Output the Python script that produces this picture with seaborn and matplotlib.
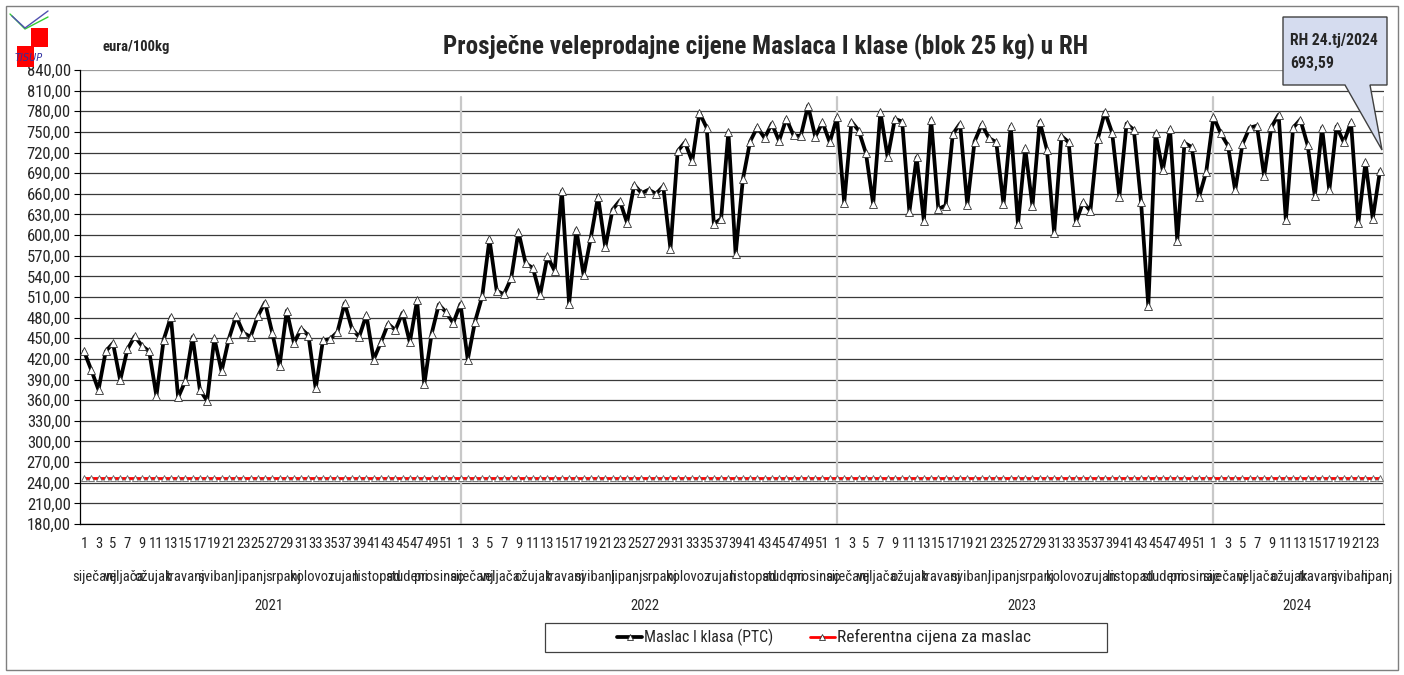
import matplotlib
matplotlib.use("Agg")
import matplotlib.pyplot as plt
from matplotlib import font_manager as fm
from matplotlib.patches import Rectangle, Polygon
from matplotlib.lines import Line2D
import numpy as np
import pandas as pd
import seaborn as sns

#####
# podaci (tjedne cijene, eura/100kg)
#####
godine = ["2021", "2022", "2023", "2024"]
mjeseci = ["siječanj", "veljača", "ožujak", "travanj", "svibanj", "lipanj",
           "srpanj", "kolovoz", "rujan", "listopad", "studeni", "prosinac"]
tjedni_po_mjesecu_2021 = [4, 4, 4, 5, 4, 5, 4, 4, 5, 4, 4, 5]
tjedni_po_mjesecu_2022 = [4, 4, 5, 4, 4, 5, 4, 4, 5, 4, 4, 5]
tjedni_po_mjesecu_2023 = [4, 4, 5, 4, 4, 5, 4, 5, 4, 4, 5, 4]
tjedni_po_mjesecu_2024 = [4, 5, 4, 4, 5, 2]

cijena_2021 = [431, 404, 375, 431, 443, 389, 434, 453, 439, 431,
               366, 448, 481, 364, 388, 452, 375, 359, 450, 402,
               449, 482, 458, 452, 482, 502, 458, 409, 490, 443,
               464, 454, 377, 447, 449, 459, 501, 464, 452, 484,
               419, 444, 471, 462, 487, 444, 505, 383, 456, 499,
               488, 472]
cijena_2022 = [500, 419, 474, 511, 594, 519, 514, 537, 605, 559,
               552, 513, 569, 548, 664, 500, 608, 542, 596, 656,
               582, 637, 650, 618, 673, 661, 666, 660, 671, 580,
               722, 735, 707, 778, 756, 616, 624, 750, 572, 681,
               736, 757, 741, 762, 737, 769, 745, 744, 788, 743,
               764, 735]
cijena_2023 = [771, 647, 765, 752, 719, 645, 779, 713, 769, 765,
               634, 713, 621, 768, 638, 643, 747, 762, 644, 736,
               761, 741, 735, 645, 758, 616, 726, 642, 765, 724,
               603, 744, 735, 619, 648, 635, 739, 779, 749, 656,
               762, 753, 648, 497, 748, 694, 754, 592, 734, 728,
               655, 692]
cijena_2024 = [772, 748, 730, 665, 732, 756, 759, 686, 757, 775,
               622, 756, 768, 731, 657, 756, 665, 758, 735, 764,
               617, 706, 624, 693.59]
referentna_cijena = 246.39

naslov = "Prosječne veleprodajne cijene Maslaca I klase (blok 25 kg) u RH"
jedinica = "eura/100kg"
naziv_serije = "Maslac I klasa (PTC)"
naziv_ref = "Referentna cijena za maslac"

cijene = [cijena_2021, cijena_2022, cijena_2023, cijena_2024]
tjedni_mj = [tjedni_po_mjesecu_2021, tjedni_po_mjesecu_2022,
             tjedni_po_mjesecu_2023, tjedni_po_mjesecu_2024]

rows = []
for g, c in zip(godine, cijene):
    for t, v in enumerate(c, start=1):
        rows.append({"godina": g, "tjedan": t, "cijena": v})
df = pd.DataFrame(rows)
df["idx"] = np.arange(len(df))
df["ref"] = referentna_cijena

W, H = 1404, 675

# uski font ako postoji, inace Liberation Sans (Arial)
dostupni = {f.name for f in fm.fontManager.ttflist}
FONT = "DejaVu Sans"
for kandidat in ["Liberation Sans Narrow", "Arial Narrow", "Roboto Condensed",
                 "Liberation Sans", "Arial"]:
    if kandidat in dostupni:
        FONT = kandidat
        break
k = 1.0 if ("Narrow" in FONT or "Condensed" in FONT) else 0.86

sns.set_style("white")
plt.rcParams["font.family"] = [FONT, "DejaVu Sans"]


def px(x, y):
    return x / W, 1 - y / H


fig = plt.figure(figsize=(W / 100, H / 100), dpi=100)
renderer = fig.canvas.get_renderer()


def prilagodi(t, sirina):
    # font tako da tekst ima zadanu sirinu u pikselima
    w = t.get_window_extent(renderer).width
    t.set_fontsize(t.get_fontsize() * sirina / w)


ax = fig.add_axes([80.4 / W, 1 - 524 / H, (1383.6 - 80.4) / W, (524 - 70) / H])

# horizontalne linije mreže
for v in np.arange(180, 841, 30):
    ax.axhline(v, color="#3a3a3a" if v < 840 else "#9a9a9a", lw=0.9, zorder=1)

# granice godina
pocetak = 0
for c in cijene[:-1]:
    pocetak += len(c)
    ax.axvline(pocetak, ymin=0, ymax=0.94, color="#c8c8c8", lw=1.6, zorder=1)
ax.axvline(len(df) - 0.5, ymin=0, ymax=0.94, color="#c8c8c8", lw=1.6, zorder=1)

sns.lineplot(data=df, x="idx", y="ref", ax=ax, color="#ff0000", lw=2.0,
             marker="^", markersize=4.5, markerfacecolor="white",
             markeredgecolor="#606060", markeredgewidth=0.6, zorder=3)
sns.lineplot(data=df, x="idx", y="cijena", ax=ax, color="black", lw=2.7,
             marker="^", markersize=5.5, markerfacecolor="white",
             markeredgecolor="#303030", markeredgewidth=0.6, zorder=4)

ax.set_xlim(-0.5, len(df) - 0.5)
ax.set_ylim(180, 840)
ax.set_yticks(np.arange(180, 841, 30))
ax.set_yticklabels([f"{v:.2f}".replace(".", ",") for v in np.arange(180, 841, 30)],
                   fontsize=12 * k)
ax.tick_params(axis="y", length=4, width=0.8, color="black", pad=3, left=True)

# tjedni (neparni)
xt = df.loc[df["tjedan"] % 2 == 1, "idx"].values
xl = df.loc[df["tjedan"] % 2 == 1, "tjedan"].astype(str).values
ax.set_xticks(xt)
ax.set_xticklabels(xl, fontsize=10.5 * k)
ax.tick_params(axis="x", length=0, pad=9)
ax.set_xlabel("")
ax.set_ylabel("")

# mjeseci i godine
trans = ax.get_xaxis_transform()
pocetak = 0
for g, c, tm in zip(godine, cijene, tjedni_mj):
    p = pocetak
    for m, n in zip(mjeseci, tm):
        ax.text(p + (n - 1) / 2, -0.117, m, transform=trans, ha="center",
                va="center", fontsize=10.5 * k)
        p += n
    ax.text(pocetak + (len(c) - 1) / 2, -0.181, g, transform=trans,
            ha="center", va="center", fontsize=10.5 * k)
    pocetak += len(c)

for s in ["top", "right"]:
    ax.spines[s].set_visible(False)
for s in ["left", "bottom"]:
    ax.spines[s].set_color("black")
    ax.spines[s].set_linewidth(0.9)
ax.legend_ = None

# naslov i jedinica
t = fig.text(*px(766, 47), naslov, ha="center", va="center", fontsize=19,
             fontweight="bold")
prilagodi(t, 644)
t = fig.text(*px(103, 47), jedinica, ha="left", va="center", fontsize=11,
             fontweight="bold")
prilagodi(t, 67)

# okvir grafikona
fig.add_artist(Rectangle(px(6, 670), (1398 - 6) / W, (670 - 6) / H,
                         transform=fig.transFigure, fill=False,
                         edgecolor="#7f7f7f", lw=1.0))

# oblačić s posljednjom vrijednošću
oblak = [(1283, 17), (1387, 17), (1387, 85), (1370, 85), (1382, 150),
         (1345, 85), (1283, 85)]
fig.add_artist(Polygon([px(x, y) for x, y in oblak], closed=True,
                       transform=fig.transFigure, facecolor="#d5dcef",
                       edgecolor="#404040", lw=1.0, zorder=5))
zadnji = df.iloc[-1]
t = fig.text(*px(1290, 40), f"RH {zadnji['tjedan']}.tj/{zadnji['godina']}",
             ha="left", va="center", fontsize=12, fontweight="bold", zorder=6)
prilagodi(t, 88)
fs = t.get_fontsize()
fig.text(*px(1290, 63), f"{zadnji['cijena']:.2f}".replace(".", ","),
         ha="left", va="center", fontsize=fs, fontweight="bold", zorder=6)

# legenda
fig.add_artist(Rectangle(px(545, 652), (1107 - 545) / W, (652 - 623) / H,
                         transform=fig.transFigure, fill=False,
                         edgecolor="#404040", lw=0.9))
for (x0, boja, lw, tekst, sir) in [(617, "black", 2.7, naziv_serije, 128),
                                   (810, "#ff0000", 2.0, naziv_ref, 192)]:
    fig.add_artist(Line2D([x0 / W, (x0 + 25) / W], [1 - 637 / H] * 2,
                          transform=fig.transFigure, color=boja, lw=lw))
    fig.add_artist(Line2D([(x0 + 12.5) / W], [1 - 637 / H], transform=fig.transFigure,
                          marker="^", markersize=4.5, markerfacecolor="white",
                          markeredgecolor="#303030", markeredgewidth=0.6, lw=0))
    t = fig.text((x0 + 27) / W, 1 - 637 / H, tekst, ha="left", va="center",
                 fontsize=11)
    prilagodi(t, sir)

# logo TISUP
fig.add_artist(Line2D([10 / W, 25 / W, 48 / W], [1 - 14 / H, 1 - 29 / H, 1 - 17 / H],
                      transform=fig.transFigure, color="#33cc33", lw=1.0))
fig.add_artist(Line2D([12 / W, 25 / W, 48 / W], [1 - 16 / H, 1 - 28 / H, 1 - 11 / H],
                      transform=fig.transFigure, color="#5050b0", lw=1.0))
fig.add_artist(Rectangle(px(30.5, 47), 17 / W, 19 / H, transform=fig.transFigure,
                         facecolor="#ff0000", edgecolor="none"))
fig.add_artist(Rectangle(px(16.5, 66.5), 17 / W, 20 / H, transform=fig.transFigure,
                         facecolor="#ff0000", edgecolor="none"))
fig.text(*px(29, 58), "TISUP", ha="center", va="center", fontsize=7,
         color="#3030a0", style="italic", family=["DejaVu Sans"], zorder=6)

fig.savefig("out.png", dpi=100)
